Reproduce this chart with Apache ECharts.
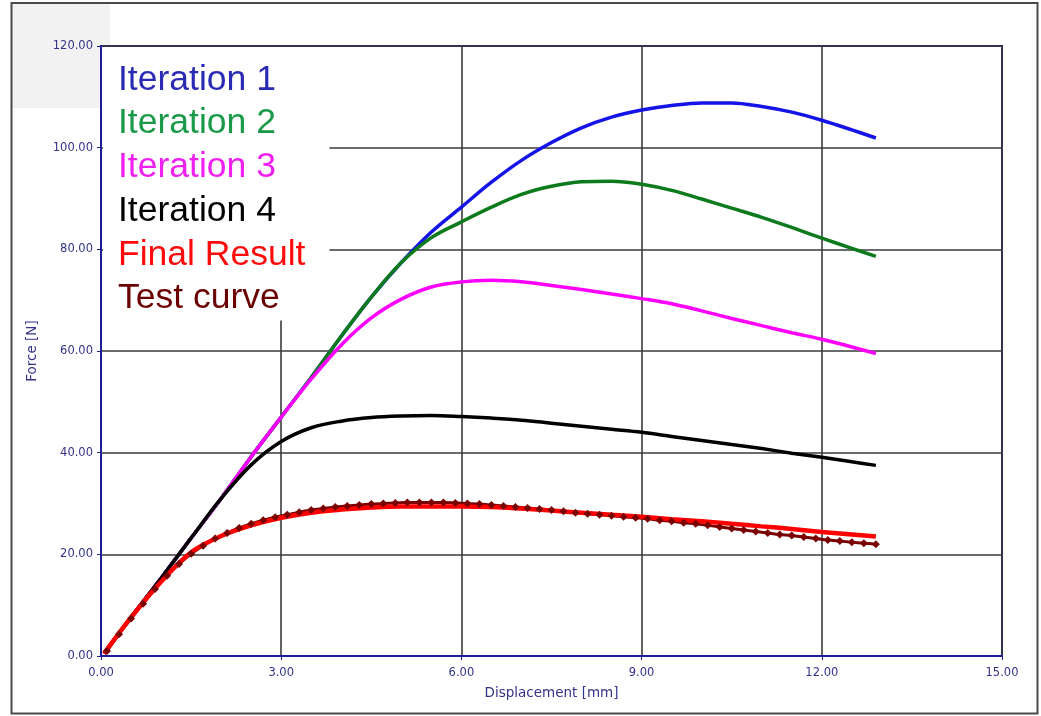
<!DOCTYPE html>
<html>
<head>
<meta charset="utf-8">
<script src="https://cdn.jsdelivr.net/npm/echarts@6/dist/echarts.min.js"></script>
<style>
html,body{margin:0;padding:0;background:#fff;}
#chart{width:1041px;height:716px;}
</style>
</head>
<body>
<div id="chart"></div>
<script>
// ---- data ----
var xIter = [0.05, 0.5, 1.0, 1.5, 2.0, 2.5, 3.0, 3.5, 4.0, 4.5, 5.0, 5.5, 6.0, 6.5, 7.0, 7.5, 8.0, 8.5, 9.0, 9.5, 10.0, 10.5, 11.0, 11.5, 12.0, 12.5, 12.9];
var iteration1 = [0.5, 7.6, 15.3, 23.2, 31.0, 39.2, 47.0, 54.8, 62.9, 70.6, 77.4, 83.4, 88.3, 93.2, 97.5, 101.0, 103.9, 106.0, 107.4, 108.3, 108.8, 108.8, 108.1, 107.0, 105.4, 103.5, 101.9];
var iteration2 = [0.5, 7.6, 15.3, 23.2, 31.0, 39.2, 47.0, 54.8, 62.9, 70.6, 77.4, 82.3, 85.4, 88.3, 90.8, 92.4, 93.3, 93.4, 92.8, 91.6, 89.9, 88.1, 86.3, 84.3, 82.2, 80.2, 78.6];
var iteration3 = [0.5, 7.6, 15.3, 23.2, 31.0, 39.2, 47.0, 54.5, 61.2, 66.5, 70.2, 72.6, 73.6, 73.9, 73.6, 72.9, 72.1, 71.2, 70.3, 69.3, 67.9, 66.4, 65.0, 63.6, 62.3, 60.8, 59.5];
var iteration4 = [0.5, 7.6, 15.3, 23.2, 31.0, 37.6, 42.2, 44.9, 46.2, 46.9, 47.2, 47.3, 47.1, 46.8, 46.4, 45.8, 45.2, 44.6, 44.0, 43.2, 42.4, 41.6, 40.8, 39.9, 39.1, 38.2, 37.5];
var finalResult = [0.5, 7.6, 14.6, 20.4, 23.6, 25.7, 27.2, 28.2, 28.8, 29.2, 29.4, 29.4, 29.4, 29.3, 29.0, 28.6, 28.2, 27.8, 27.4, 26.9, 26.5, 26.0, 25.5, 25.0, 24.4, 23.9, 23.5];
var xTest = [0.1, 0.3, 0.5, 0.7, 0.9, 1.1, 1.3, 1.5, 1.7, 1.9, 2.1, 2.3, 2.5, 2.7, 2.9, 3.1, 3.3, 3.5, 3.7, 3.9, 4.1, 4.3, 4.5, 4.7, 4.9, 5.1, 5.3, 5.5, 5.7, 5.9, 6.1, 6.3, 6.5, 6.7, 6.9, 7.1, 7.3, 7.5, 7.7, 7.9, 8.1, 8.3, 8.5, 8.7, 8.9, 9.1, 9.3, 9.5, 9.7, 9.9, 10.1, 10.3, 10.5, 10.7, 10.9, 11.1, 11.3, 11.5, 11.7, 11.9, 12.1, 12.3, 12.5, 12.7, 12.9];
var testCurve = [1.0, 4.3, 7.4, 10.3, 13.2, 15.8, 18.1, 20.1, 21.7, 23.1, 24.2, 25.2, 26.0, 26.7, 27.3, 27.8, 28.3, 28.7, 29.0, 29.3, 29.5, 29.7, 29.9, 30.0, 30.1, 30.2, 30.2, 30.2, 30.2, 30.1, 30.0, 29.9, 29.7, 29.5, 29.3, 29.1, 28.9, 28.7, 28.5, 28.2, 28.0, 27.8, 27.6, 27.4, 27.2, 27.0, 26.7, 26.5, 26.2, 26.0, 25.7, 25.4, 25.1, 24.8, 24.5, 24.2, 23.9, 23.7, 23.4, 23.1, 22.8, 22.6, 22.4, 22.2, 22.0];
var seriesNames = ['Iteration 1', 'Iteration 2', 'Iteration 3', 'Iteration 4', 'Final Result', 'Test curve'];
var xTicks = [0, 3, 6, 9, 12, 15];
var yTicks = [0, 20, 40, 60, 80, 100, 120];

function pairs(xs, ys) { return xs.map(function (x, i) { return [x, ys[i]]; }); }

var navy = '#1c1c96';
var labelColor = '#33338a';
var lineColors = ['#1414e8', '#0d7a1c', '#ff00ff', '#000000', '#ff0000', '#7a0000'];
var legendColors = ['#2a2ab4', '#1a9a48', '#f020f0', '#000000', '#ff0a0a', '#6a0000'];

var chart = echarts.init(document.getElementById('chart'), null, {renderer: 'canvas'});
var option = {
  animation: false,
  backgroundColor: '#ffffff',
  graphic: [
    {type: 'rect', z: -1, shape: {x: 12, y: 4, width: 98, height: 104}, style: {fill: '#f2f2f2'}},
    {type: 'rect', z: 100, shape: {x: 11.5, y: 3, width: 1026, height: 710.5}, style: {fill: 'none', stroke: '#4a4a4a', lineWidth: 2}}
  ],
  grid: {left: 101, right: 39, top: 46, bottom: 60, show: true, backgroundColor: '#ffffff', borderColor: navy, borderWidth: 2, z: 0},
  legend: {
    orient: 'vertical', left: 103, top: 47, icon: 'none', itemWidth: 0, itemHeight: 35, itemGap: 7.7,
    padding: [15, 24, 4, 10], backgroundColor: '#ffffff', selectedMode: false,
    textStyle: {fontFamily: 'Liberation Sans, Arial, sans-serif', fontSize: 35.5},
    data: seriesNames.map(function (n, i) { return {name: n, textStyle: {color: legendColors[i]}}; })
  },
  xAxis: {
    type: 'value', min: xTicks[0], max: xTicks[xTicks.length - 1], interval: 3,
    name: 'Displacement [mm]', nameLocation: 'middle', nameGap: 30,
    nameTextStyle: {color: labelColor, fontFamily: 'DejaVu Sans', fontSize: 13.5},
    axisLine: {show: true, onZero: false, lineStyle: {color: navy, width: 2}},
    axisTick: {show: true, length: 4, lineStyle: {color: navy}},
    axisLabel: {color: labelColor, fontFamily: 'DejaVu Sans', fontSize: 11.5, margin: 11, formatter: function (v) { return v.toFixed(2); }},
    splitLine: {show: true, lineStyle: {color: '#3a3a3a', width: 1.6}}
  },
  yAxis: {
    type: 'value', min: yTicks[0], max: yTicks[yTicks.length - 1], interval: 20,
    name: 'Force [N]', nameLocation: 'middle', nameGap: 62,
    nameTextStyle: {color: labelColor, fontFamily: 'DejaVu Sans', fontSize: 13.5},
    axisLine: {show: true, lineStyle: {color: navy, width: 2}},
    axisTick: {show: true, length: 4, lineStyle: {color: navy}},
    axisLabel: {color: labelColor, fontFamily: 'DejaVu Sans', fontSize: 11.5, margin: 8, formatter: function (v) { return v.toFixed(2); }},
    splitLine: {show: true, lineStyle: {color: '#3a3a3a', width: 1.6}}
  },
  series: [
    {name: seriesNames[0], type: 'line', data: pairs(xIter, iteration1), smooth: 0.35, showSymbol: false, lineStyle: {color: lineColors[0], width: 3.5}, itemStyle: {color: lineColors[0]}},
    {name: seriesNames[1], type: 'line', data: pairs(xIter, iteration2), smooth: 0.35, showSymbol: false, lineStyle: {color: lineColors[1], width: 3.5}, itemStyle: {color: lineColors[1]}},
    {name: seriesNames[2], type: 'line', data: pairs(xIter, iteration3), smooth: 0.35, showSymbol: false, lineStyle: {color: lineColors[2], width: 3.5}, itemStyle: {color: lineColors[2]}},
    {name: seriesNames[3], type: 'line', data: pairs(xIter, iteration4), smooth: 0.35, showSymbol: false, lineStyle: {color: lineColors[3], width: 3.5}, itemStyle: {color: lineColors[3]}},
    {name: seriesNames[5], type: 'line', data: pairs(xTest, testCurve), smooth: 0.3, showSymbol: true, symbol: 'diamond', symbolSize: 8, lineStyle: {color: lineColors[5], width: 3}, itemStyle: {color: lineColors[5]}},
    {name: seriesNames[4], type: 'line', data: pairs(xIter, finalResult), smooth: 0.35, showSymbol: false, lineStyle: {color: lineColors[4], width: 4.5}, itemStyle: {color: lineColors[4]}}
  ]
};
chart.setOption(option);
</script>
</body>
</html>
